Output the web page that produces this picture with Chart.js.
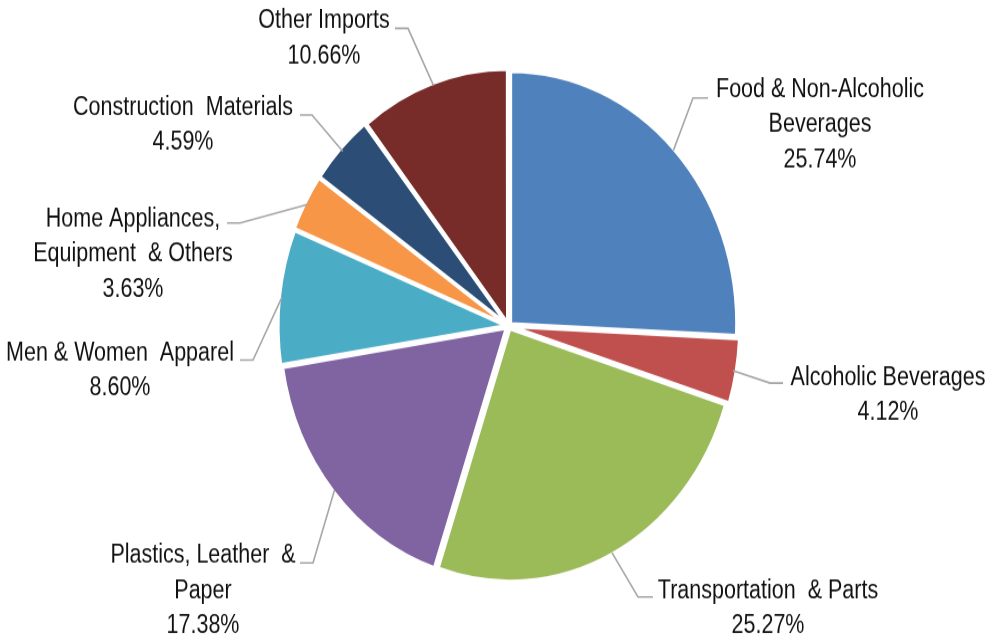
<!DOCTYPE html>
<html>
<head>
<meta charset="utf-8">
<script src="https://cdn.jsdelivr.net/npm/chart.js@4.4.1/dist/chart.umd.min.js"></script>
<style>
  html, body { margin: 0; padding: 0; background: #fff; }
  .frame { width: 998px; height: 643px; position: relative; }
  /* the source picture is stretched vertically, so the chart is too */
  .stretch { position: absolute; left: 0; top: 0; width: 998px; height: 576px; transform: scaleY(1.11632); transform-origin: 0 0; }
  #chart { display: block; }
</style>
</head>
<body>
<div class="frame">
  <div class="stretch">
    <canvas id="chart" width="998" height="576"></canvas>
  </div>
</div>
<script>
const categories = [
  ["Food & Non-Alcoholic", "Beverages"],
  ["Alcoholic Beverages"],
  ["Transportation  & Parts"],
  ["Plastics, Leather  &", "Paper"],
  ["Men & Women  Apparel"],
  ["Home Appliances,", "Equipment  & Others"],
  ["Construction  Materials"],
  ["Other Imports"]
];
const shares = [25.74, 4.12, 25.27, 17.38, 8.60, 3.63, 4.59, 10.66];
const sliceColors = ["#4F81BD", "#C0504D", "#9BBB59", "#8064A2", "#4BACC6", "#F79646", "#2C4D75", "#772C2A"];

// where each label sits, relative to the pie centre (canvas px):
// tx/ty = text centre + first baseline, ex/ey = leader elbow, hx = end of the flat tick
const labelSpots = [
  { tx: 311.5, ty: -205.1, ex: 184.5, ey: -204.2, hx: 199.5 },
  { tx: 379.5, ty: 52.9, ex: 261.5, ey: 51.1, hx: 274.5 },
  { tx: 259.5, ty: 243.7, ex: 129.5, ey: 242.8, hx: 144.5 },
  { tx: -305.5, ty: 212.3, ex: -195.5, ey: 212.3, hx: -208.5 },
  { tx: -388.5, ty: 30.5, ex: -255.5, ey: 30.5, hx: -268.5 },
  { tx: -375.5, ty: -88.9, ex: -268.5, ey: -92.2, hx: -281.5 },
  { tx: -325.5, ty: -189, ex: -196.5, ey: -189, hx: -208.5 },
  { tx: -184.5, ty: -266.6, ex: -100.5, ey: -266.6, hx: -113.5 }
];
const LINE_H = 31.3;

const leaderLabels = {
  id: "leaderLabels",
  afterDatasetsDraw(chart) {
    const ctx = chart.ctx;
    const arcs = chart.getDatasetMeta(0).data;
    ctx.save();
    ctx.font = "23.5px 'Liberation Sans', Arial, sans-serif";
    ctx.textAlign = "center";
    ctx.textBaseline = "alphabetic";
    arcs.forEach((arc, i) => {
      const spot = labelSpots[i];
      const { x, y, startAngle, endAngle, outerRadius } = arc.getProps(["x", "y", "startAngle", "endAngle", "outerRadius"], true);
      const mid = (startAngle + endAngle) / 2;
      const px = x + Math.cos(mid) * (outerRadius + 2);
      const py = y + Math.sin(mid) * (outerRadius + 2);

      ctx.strokeStyle = "#A6A6A6";
      ctx.lineWidth = 1.6;
      ctx.beginPath();
      ctx.moveTo(px, py);
      ctx.lineTo(x + spot.ex, y + spot.ey);
      ctx.lineTo(x + spot.hx, y + spot.ey);
      ctx.stroke();

      ctx.fillStyle = "#111";
      const lines = [...categories[i], shares[i].toFixed(2) + "%"];
      lines.forEach((t, k) => {
        ctx.save();
        ctx.translate(x + spot.tx, y + spot.ty + k * LINE_H);
        ctx.scale(0.915, 1);
        ctx.fillText(t, 0, 0);
        ctx.restore();
      });
    });
    ctx.restore();
  }
};

new Chart(document.getElementById("chart").getContext("2d"), {
  type: "pie",
  data: {
    labels: categories.map((c) => c.join(" ")),
    datasets: [
      {
        data: shares,
        backgroundColor: sliceColors,
        borderColor: "#fff",
        borderWidth: 3,
        offset: 12
      }
    ]
  },
  options: {
    responsive: false,
    devicePixelRatio: 1,
    animation: false,
    radius: 226,
    layout: { padding: { left: 19, right: 0, top: 8, bottom: 0 } },
    plugins: {
      legend: { display: false },
      tooltip: { enabled: false }
    }
  },
  plugins: [leaderLabels]
});
</script>
</body>
</html>
